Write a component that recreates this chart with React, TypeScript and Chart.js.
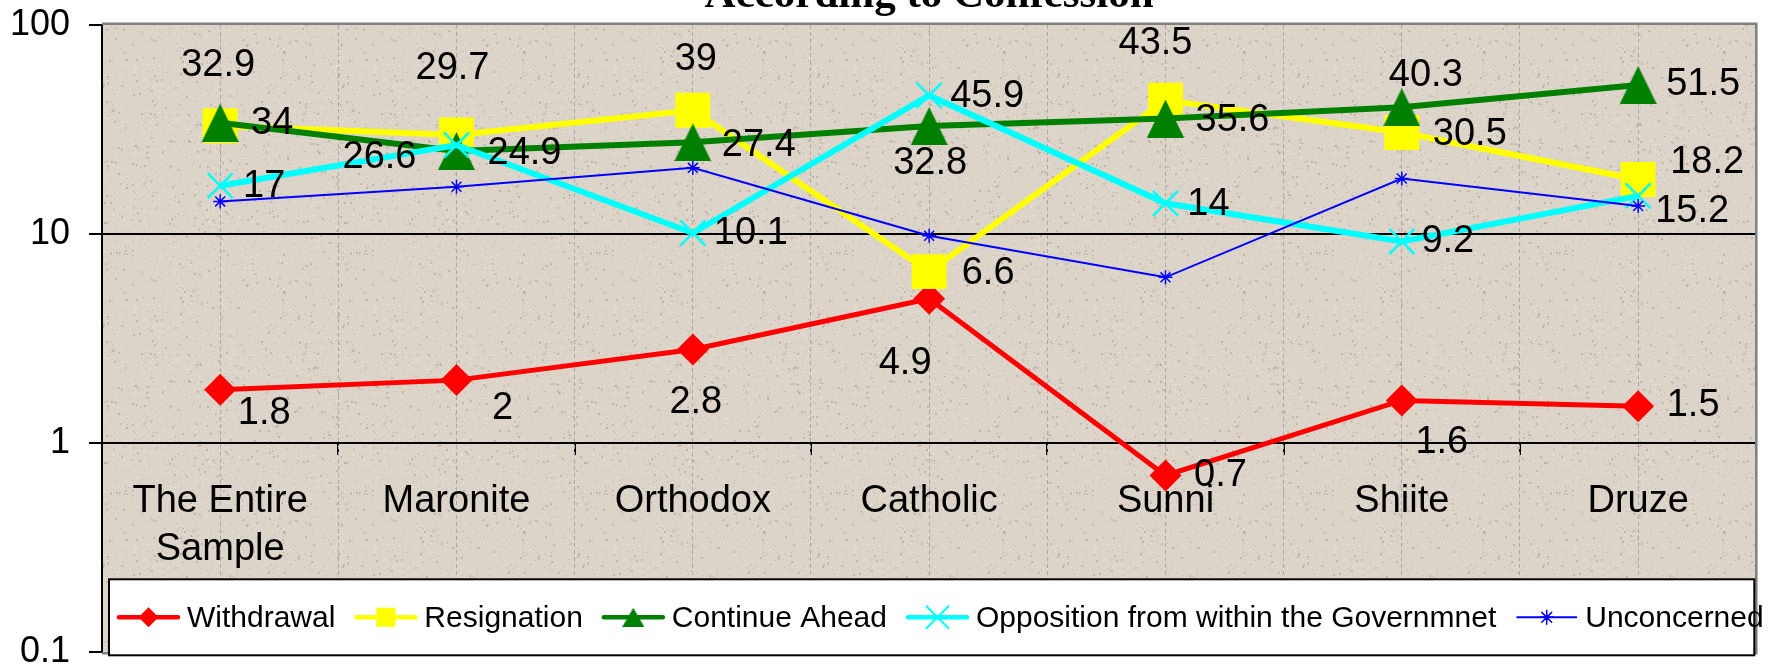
import React, { useEffect, useRef } from 'react';
import { Chart, registerables } from 'chart.js';

Chart.register(...registerables);

// ---------- data ----------
const TITLE = 'According to Confession';
const CATEGORIES: (string | string[])[] = [['The Entire', 'Sample'], 'Maronite', 'Orthodox', 'Catholic', 'Sunni', 'Shiite', 'Druze'];
const SERIES_NAMES = ['Withdrawal', 'Resignation', 'Continue Ahead', 'Opposition from within the Governmnet', 'Unconcerned'];
const WITHDRAWAL = [1.8, 2, 2.8, 4.9, 0.7, 1.6, 1.5];
const RESIGNATION = [32.9, 29.7, 39, 6.6, 43.5, 30.5, 18.2];
const CONTINUE_AHEAD = [34, 24.9, 27.4, 32.8, 35.6, 40.3, 51.5];
const OPPOSITION = [17, 26.6, 10.1, 45.9, 14, 9.2, 15.2];
const UNCONCERNED = [14.3, 16.8, 20.7, 9.8, 6.2, 18.4, 13.6];
const Y_TICKS = [0.1, 1, 10, 100];

// ---------- label placement (style: offset of label centre from its point, px) ----------
const LABEL_OFFSETS: number[][][] = [
  [[44, 24], [46, 28], [3, 53], [-24, 65], [55, 0], [40, 42], [55, -1]],
  [[-2, -60], [-4, -66], [3, -51], [59, 2], [-10, -57], [68, 2], [69, -17]],
  [[52, 1], [68, 3], [66, 3], [1, 38], [67, 2], [24, -32], [65, 0]],
  [[44, 1], [-77, 13], [58, 1], [58, 1], [43, 1], [46, 0], [54, 16]],
];

const COLORS = ['#FF0000', '#FFFF00', '#008000', '#00FFFF', '#0000FF'];
const SANS = '"Liberation Sans", Arial, sans-serif';
const CANVAS_W = 1781;
const CANVAS_H = 677; // a few px run past the 669px window, so the bottom tick label is clipped like the reference

function makeTriangle(w: number, h: number, color: string): HTMLCanvasElement {
  const c = document.createElement('canvas');
  c.width = w;
  c.height = h;
  const g = c.getContext('2d')!;
  g.fillStyle = color;
  g.beginPath();
  g.moveTo(w / 2, 0);
  g.lineTo(w, h);
  g.lineTo(0, h);
  g.closePath();
  g.fill();
  return c;
}

function makeTexture(): HTMLCanvasElement {
  const size = 240;
  const c = document.createElement('canvas');
  c.width = size;
  c.height = size;
  const g = c.getContext('2d')!;
  g.fillStyle = '#DCD4C9';
  g.fillRect(0, 0, size, size);
  let s = 12345;
  const next = () => {
    s = (Math.imul(s, 1103515245) + 12345) >>> 0;
    return s / 4294967296;
  };
  for (let i = 0; i < 2600; i++) {
    const x = Math.floor(next() * size);
    const y = Math.floor(next() * size);
    const t = next();
    g.fillStyle = t < 0.55 ? 'rgba(160,140,120,0.40)' : 'rgba(245,240,232,0.55)';
    const w = t < 0.1 ? 2 : 1;
    g.fillRect(x, y, w, w);
  }
  return c;
}

function drawLegendMarker(ctx: CanvasRenderingContext2D, i: number, x: number, y: number, tri: HTMLCanvasElement) {
  const color = COLORS[i];
  ctx.save();
  ctx.fillStyle = color;
  ctx.strokeStyle = color;
  if (i === 0) {
    const r = 10;
    ctx.beginPath();
    ctx.moveTo(x - r, y);
    ctx.lineTo(x, y - r);
    ctx.lineTo(x + r, y);
    ctx.lineTo(x, y + r);
    ctx.closePath();
    ctx.fill();
  } else if (i === 1) {
    ctx.fillRect(x - 9.5, y - 9.5, 19, 19);
  } else if (i === 2) {
    ctx.drawImage(tri, x - tri.width / 2, y - tri.height / 2);
  } else if (i === 3) {
    const r = 11;
    ctx.lineWidth = 2;
    ctx.beginPath();
    ctx.moveTo(x - r, y - r);
    ctx.lineTo(x + r, y + r);
    ctx.moveTo(x + r, y - r);
    ctx.lineTo(x - r, y + r);
    ctx.stroke();
  } else {
    const r = 7;
    const d = r * Math.SQRT1_2;
    ctx.lineWidth = 1.5;
    ctx.beginPath();
    ctx.moveTo(x, y - r);
    ctx.lineTo(x, y + r);
    ctx.moveTo(x - d, y - d);
    ctx.lineTo(x + d, y + d);
    ctx.moveTo(x + d, y - d);
    ctx.lineTo(x - d, y + d);
    ctx.moveTo(x - r, y);
    ctx.lineTo(x + r, y);
    ctx.stroke();
  }
  ctx.restore();
}

export default function App() {
  const canvasRef = useRef<HTMLCanvasElement | null>(null);

  useEffect(() => {
    const canvas = canvasRef.current;
    if (!canvas) return;
    const texture = makeTexture();
    const bigTri = makeTriangle(37, 38, COLORS[2]);
    const smallTri = makeTriangle(22, 19, COLORS[2]);

    const backgroundPlugin = {
      id: 'bg',
      beforeDraw(chart: any) {
        const { ctx, chartArea: a } = chart;
        ctx.save();
        ctx.fillStyle = '#FFFFFF';
        ctx.fillRect(0, 0, chart.width, chart.height);
        const pat = ctx.createPattern(texture, 'repeat');
        ctx.fillStyle = pat || '#DCD4C9';
        ctx.fillRect(a.left, a.top, a.right - a.left, a.bottom - a.top);
        ctx.restore();
      },
    };

    const labelPlugin = {
      id: 'pointLabels',
      afterDatasetsDraw(chart: any) {
        const ctx = chart.ctx;
        ctx.save();
        ctx.font = `38px ${SANS}`;
        ctx.fillStyle = '#000';
        ctx.textAlign = 'center';
        ctx.textBaseline = 'middle';
        LABEL_OFFSETS.forEach((offs, di) => {
          const meta = chart.getDatasetMeta(di);
          const data = chart.data.datasets[di].data as number[];
          meta.data.forEach((pt: any, j: number) => {
            const [dx, dy] = offs[j];
            ctx.fillText(String(data[j]), pt.x + dx, pt.y + dy);
          });
        });
        ctx.restore();
      },
    };

    const framePlugin = {
      id: 'frame',
      afterDraw(chart: any) {
        const { ctx, chartArea: a } = chart;
        ctx.save();
        // grey plot border (top, right, bottom)
        ctx.strokeStyle = '#808080';
        ctx.lineWidth = 2.5;
        ctx.beginPath();
        ctx.moveTo(a.left, a.top - 1);
        ctx.lineTo(a.right, a.top - 1);
        ctx.lineTo(a.right, a.bottom + 1);
        ctx.lineTo(a.left, a.bottom + 1);
        ctx.stroke();
        // title (cut off at the top like the reference)
        ctx.fillStyle = '#000';
        ctx.font = 'bold 43px "Liberation Serif", "Times New Roman", serif';
        ctx.textAlign = 'center';
        ctx.textBaseline = 'alphabetic';
        ctx.fillText(TITLE, (a.left + a.right) / 2, 7);
        // legend box
        const bx = a.left + 7;
        const by = a.bottom - 73;
        const bw = a.right - 2 - bx;
        const bh = 76;
        ctx.fillStyle = '#FFFFFF';
        ctx.fillRect(bx, by, bw, bh);
        ctx.strokeStyle = '#000';
        ctx.lineWidth = 2;
        ctx.strokeRect(bx, by, bw, bh);
        ctx.font = `30px ${SANS}`;
        ctx.textAlign = 'left';
        ctx.textBaseline = 'middle';
        const cy = by + 38;
        let x = bx + 8;
        chart.data.datasets.forEach((ds: any, i: number) => {
          ctx.strokeStyle = ds.borderColor;
          ctx.lineWidth = Math.min(ds.borderWidth, 4.5);
          ctx.lineCap = 'round';
          ctx.beginPath();
          ctx.moveTo(x + 2, cy);
          ctx.lineTo(x + 61, cy);
          ctx.stroke();
          drawLegendMarker(ctx, i, x + 31.5, cy, smallTri);
          x += 70;
          ctx.fillStyle = '#000';
          ctx.fillText(ds.label, x, cy + 1);
          x += ctx.measureText(ds.label).width + 19;
        });
        ctx.restore();
      },
    };

    const chart = new Chart(canvas, {
      type: 'line',
      data: {
        labels: CATEGORIES as any,
        datasets: [
          {
            label: SERIES_NAMES[0], data: WITHDRAWAL, borderColor: COLORS[0], backgroundColor: COLORS[0],
            borderWidth: 5, pointStyle: 'rectRot', pointRadius: 16, pointBorderWidth: 0,
            pointBackgroundColor: COLORS[0], order: 5, xAxisID: 'x', yAxisID: 'y',
          },
          {
            label: SERIES_NAMES[1], data: RESIGNATION, borderColor: COLORS[1], backgroundColor: COLORS[1],
            borderWidth: 6, pointStyle: 'rect', pointRadius: 24.7, pointBorderWidth: 0,
            pointBackgroundColor: COLORS[1], order: 4, xAxisID: 'x', yAxisID: 'y',
          },
          {
            label: SERIES_NAMES[2], data: CONTINUE_AHEAD, borderColor: COLORS[2], backgroundColor: COLORS[2],
            borderWidth: 6, pointStyle: bigTri as any, pointRadius: 19, pointBorderWidth: 0,
            order: 3, xAxisID: 'x', yAxisID: 'y',
          },
          {
            label: SERIES_NAMES[3], data: OPPOSITION, borderColor: COLORS[3], backgroundColor: COLORS[3],
            borderWidth: 6, pointStyle: 'crossRot', pointRadius: 17.7, pointBorderWidth: 2.5,
            pointBorderColor: COLORS[3], order: 2, xAxisID: 'x', yAxisID: 'y',
          },
          {
            label: SERIES_NAMES[4], data: UNCONCERNED, borderColor: COLORS[4], backgroundColor: COLORS[4],
            borderWidth: 2, pointStyle: 'star', pointRadius: 7, pointBorderWidth: 1.5,
            pointBorderColor: COLORS[4], order: 1, xAxisID: 'x', yAxisID: 'y',
          },
        ],
      },
      options: {
        animation: false,
        responsive: false,
        maintainAspectRatio: false,
        devicePixelRatio: 1,
        events: [],
        layout: { padding: { left: 0, top: 24, right: 11, bottom: 9 } },
        plugins: { legend: { display: false }, title: { display: false }, tooltip: { enabled: false } },
        elements: { line: { tension: 0 } },
        scales: {
          x: {
            type: 'category',
            offset: true,
            position: { y: 1 } as any,
            grid: {
              offset: true, drawOnChartArea: false, drawTicks: true, tickLength: 11,
              tickColor: '#000', tickWidth: 2, color: '#000', lineWidth: 2,
            },
            border: { display: true, color: '#000', width: 2 },
            ticks: {
              color: '#000', font: { family: SANS, size: 38, lineHeight: 1.263 },
              padding: 23, maxRotation: 0, minRotation: 0, autoSkip: false,
            },
            afterFit: (s: any) => { s.paddingLeft = 0; s.paddingRight = 0; s.paddingTop = 0; s.paddingBottom = 0; },
          },
          xg: {
            type: 'linear',
            axis: 'x',
            position: 'top',
            min: 0,
            max: 14,
            afterFit: (s: any) => { s.height = 0; s.paddingLeft = 0; s.paddingRight = 0; s.paddingTop = 0; s.paddingBottom = 0; },
            ticks: { display: false, stepSize: 1 },
            grid: {
              drawTicks: false,
              lineWidth: 1,
              color: (c: any) => (c.tick && (c.tick.value === 0 || c.tick.value === 14)) ? 'rgba(0,0,0,0)' : '#A8A8A8',
              borderDash: [4, 3],
            } as any,
            border: { display: false, dash: [4, 3] },
          } as any,
          y: {
            type: 'logarithmic',
            position: 'left',
            min: 0.1,
            max: 100,
            afterBuildTicks: (s: any) => { s.ticks = Y_TICKS.map((v) => ({ value: v })); },
            afterFit: (s: any) => { s.width = 102; s.paddingTop = 0; s.paddingBottom = 0; },
            ticks: {
              callback: (v: any) => String(v), color: '#000',
              font: { family: SANS, size: 36 }, padding: 19, autoSkip: false,
            },
            grid: {
              color: (c: any) => (c.tick && (c.tick.value === 10 || c.tick.value === 1)) ? '#000' : 'rgba(0,0,0,0)',
              lineWidth: 2, tickColor: '#000', tickLength: 13, tickWidth: 2,
            },
            border: { display: true, color: '#000', width: 2 },
          },
        },
      } as any,
      plugins: [backgroundPlugin, labelPlugin, framePlugin],
    });

    return () => chart.destroy();
  }, []);

  return (
    <div style={{ position: 'fixed', left: 0, top: 0, width: CANVAS_W, height: CANVAS_H, background: '#fff' }}>
      <canvas ref={canvasRef} width={CANVAS_W} height={CANVAS_H} style={{ display: 'block', width: CANVAS_W, height: CANVAS_H }} />
    </div>
  );
}
